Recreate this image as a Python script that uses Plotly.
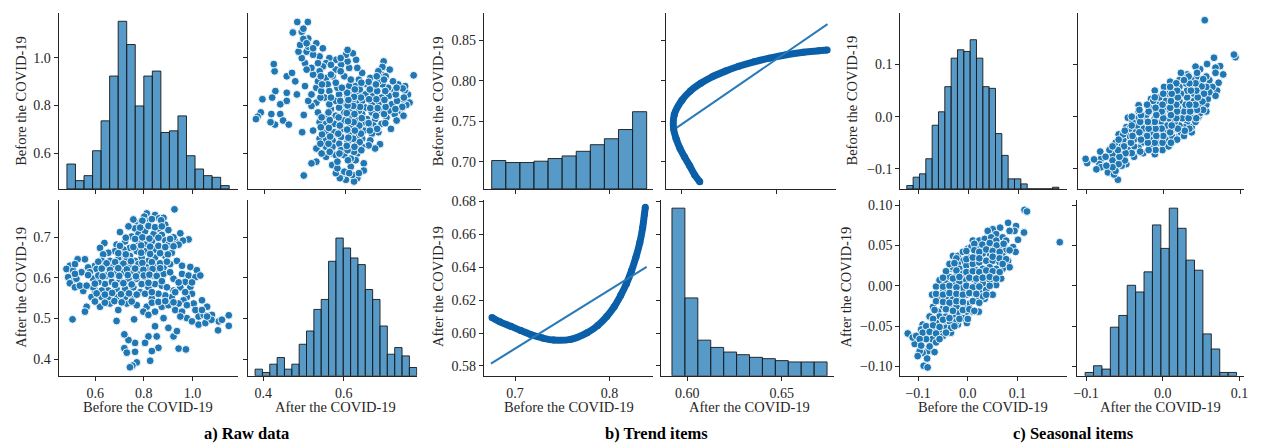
import plotly.graph_objects as go

W, H = 1264, 446
FONT = "Liberation Serif"
INK = "#262626"
BLUE = "#1f77b4"
BAR_FILL = "rgba(31,119,180,0.75)"
BAR_EDGE = "rgba(25,25,25,0.9)"
CURVE = "#0a5fa8"
REGLINE = "#2a7ab8"

# ---------------- a) Raw data ----------------
RAW_BEFORE = [
    0.926, 0.812, 0.802, 0.846, 0.863, 0.881, 0.826, 0.778, 0.764, 0.791,
    0.888, 0.901, 0.860, 0.702, 0.950, 0.984, 0.961, 0.929, 0.922, 0.638,
    0.620, 0.688, 0.723, 0.750, 0.778, 0.805, 0.840, 0.874, 0.888, 0.833,
    0.805, 0.778, 0.743, 0.716, 0.682, 0.654, 0.633, 0.709, 0.743, 0.771,
    0.805, 0.846, 0.874, 0.901, 0.943, 0.915, 0.888, 0.846, 0.819, 0.791,
    0.764, 0.730, 0.695, 0.661, 0.627, 0.599, 0.571, 0.558, 0.528, 0.496,
    0.482, 0.510, 0.544, 0.489, 0.503, 0.523, 0.496, 0.517, 0.551, 0.578,
    0.606, 0.640, 0.675, 0.709, 0.743, 0.778, 0.812, 0.846, 0.881, 0.908,
    0.936, 0.922, 0.957, 0.991, 1.018, 0.957, 0.984, 1.012, 1.032, 0.970,
    0.950, 0.922, 0.991, 0.998, 0.977, 0.963, 0.943, 0.915, 0.888, 0.860,
    0.833, 0.812, 0.798, 0.819, 0.846, 0.874, 0.901, 0.929, 0.957, 0.977,
    0.998, 1.025, 1.046, 1.060, 1.039, 1.005, 1.025, 1.053, 1.080, 1.108,
    1.121, 1.149, 1.149, 1.105, 1.078, 0.846, 0.901, 0.881, 0.922, 0.936,
    0.943, 0.973, 0.860, 0.833, 0.853, 0.819, 0.805, 0.826, 0.764, 0.737,
    0.720, 0.720, 0.764, 0.730, 0.771, 0.753, 0.743, 0.688, 0.760, 0.565,
    0.558, 0.507, 0.771, 0.730, 0.695, 0.661, 0.620, 0.585, 0.599, 0.627,
    0.654, 0.688, 0.723, 0.757, 0.785, 0.819, 0.846, 0.874, 0.895, 0.867,
    0.840, 0.805, 0.771, 0.737, 0.702, 0.668, 0.640, 0.613, 0.592, 0.613,
    0.647, 0.682, 0.716, 0.750, 0.785, 0.819, 0.853, 0.881, 0.908, 0.791,
    0.757, 0.723, 0.688, 0.654, 0.627, 0.592,
    0.757, 0.794, 0.833, 0.871,
    0.737, 0.785, 0.819, 0.846, 0.874,
    0.726, 0.764, 0.794, 0.823, 0.860, 0.908,
    0.702, 0.757, 0.789, 0.826, 0.860, 0.888, 0.922,
    0.695, 0.726, 0.789, 0.826, 0.867, 0.899,
    0.613, 0.647, 0.682, 0.716, 0.747, 0.794, 0.833, 0.867, 0.895,
    0.627, 0.661, 0.695, 0.730, 0.764, 0.798, 0.836, 0.867,
    0.571, 0.631, 0.665, 0.699, 0.734, 0.768, 0.800, 0.823, 0.853,
    0.599, 0.682, 0.716, 0.750, 0.819, 0.874,
    0.606, 0.640, 0.670, 0.706, 0.739, 0.771, 0.805, 0.833,
    0.599, 0.640, 0.679, 0.709, 0.750, 0.833, 0.860, 0.888, 0.922,
    0.943, 0.998, 0.970, 0.929, 0.977, 1.012, 1.039, 0.950, 1.060,
    0.517, 0.517, 0.537, 0.565,
]
RAW_AFTER = [
    0.769, 0.759, 0.751, 0.755, 0.747, 0.748, 0.743, 0.735, 0.722, 0.739,
    0.731, 0.718, 0.722, 0.713, 0.710, 0.695, 0.692, 0.690, 0.700, 0.686,
    0.674, 0.682, 0.690, 0.702, 0.708, 0.715, 0.708, 0.706, 0.692, 0.690,
    0.682, 0.690, 0.674, 0.670, 0.666, 0.662, 0.658, 0.658, 0.654, 0.666,
    0.666, 0.670, 0.674, 0.682, 0.682, 0.662, 0.654, 0.650, 0.642, 0.650,
    0.642, 0.646, 0.646, 0.642, 0.642, 0.630, 0.626, 0.646, 0.646, 0.630,
    0.622, 0.618, 0.614, 0.602, 0.590, 0.598, 0.587, 0.577, 0.568, 0.614,
    0.622, 0.630, 0.630, 0.634, 0.630, 0.634, 0.626, 0.630, 0.626, 0.634,
    0.642, 0.598, 0.630, 0.627, 0.619, 0.610, 0.606, 0.602, 0.606, 0.590,
    0.577, 0.569, 0.577, 0.561, 0.553, 0.545, 0.537, 0.553, 0.557, 0.561,
    0.549, 0.529, 0.517, 0.509, 0.517, 0.529, 0.533, 0.521, 0.517, 0.501,
    0.493, 0.505, 0.509, 0.529, 0.545, 0.537, 0.485, 0.489, 0.509, 0.493,
    0.497, 0.508, 0.482, 0.471, 0.497, 0.481, 0.477, 0.501, 0.456, 0.469,
    0.426, 0.424, 0.428, 0.420, 0.456, 0.456, 0.440, 0.396, 0.440, 0.447,
    0.461, 0.427, 0.418, 0.416, 0.392, 0.384, 0.380, 0.494, 0.498, 0.529,
    0.517, 0.498, 0.533, 0.537, 0.521, 0.537, 0.529, 0.553, 0.569, 0.553,
    0.553, 0.553, 0.553, 0.557, 0.565, 0.577, 0.585, 0.581, 0.577, 0.602,
    0.606, 0.602, 0.598, 0.598, 0.594, 0.590, 0.585, 0.590, 0.598, 0.606,
    0.606, 0.610, 0.614, 0.614, 0.614, 0.618, 0.614, 0.610, 0.614, 0.585,
    0.577, 0.573, 0.573, 0.569, 0.569, 0.577,
    0.744, 0.741, 0.745, 0.742,
    0.727, 0.724, 0.728, 0.725, 0.727,
    0.699, 0.696, 0.700, 0.697, 0.699, 0.696,
    0.679, 0.676, 0.680, 0.677, 0.679, 0.676, 0.678,
    0.661, 0.658, 0.662, 0.659, 0.661, 0.658,
    0.640, 0.636, 0.639, 0.635, 0.641, 0.637, 0.639, 0.636, 0.640,
    0.623, 0.620, 0.624, 0.621, 0.623, 0.620, 0.622, 0.624,
    0.607, 0.604, 0.608, 0.605, 0.607, 0.604, 0.606, 0.608, 0.605,
    0.586, 0.583, 0.587, 0.584, 0.588, 0.592,
    0.562, 0.559, 0.563, 0.560, 0.562, 0.559, 0.561, 0.565,
    0.542, 0.539, 0.543, 0.540, 0.542, 0.539, 0.541, 0.543, 0.540,
    0.589, 0.589, 0.565, 0.565, 0.533, 0.521, 0.521, 0.505, 0.505,
    0.610, 0.634, 0.581, 0.581,
]
RAW_BEFORE_BIN_START = 0.484
RAW_BEFORE_BIN_WIDTH = 0.0351
RAW_BEFORE_COUNTS = [15, 5, 8, 23, 41, 68, 101, 87, 50, 68, 71, 34, 35, 44, 20, 12, 8, 7, 2]
RAW_AFTER_BIN_START = 0.3795
RAW_AFTER_BIN_WIDTH = 0.01827
RAW_AFTER_COUNTS = [4, 2, 7, 11, 4, 7, 19, 27, 40, 46, 69, 83, 77, 71, 67, 52, 46, 30, 13, 17, 12, 5]

# ---------------- b) Trend items ----------------
TREND_BEFORE = [0.6755, 0.684, 0.6955, 0.706, 0.7165, 0.729, 0.741, 0.7586, 0.7762, 0.7875,
                0.7970, 0.8050, 0.8120, 0.8180, 0.8235, 0.8280, 0.8322, 0.8352, 0.8370, 0.8380]
TREND_AFTER = [0.6095, 0.6068, 0.6041, 0.6015, 0.5991, 0.5970, 0.5957, 0.5961, 0.6001, 0.6045,
               0.6100, 0.6160, 0.6230, 0.6300, 0.6380, 0.6460, 0.6550, 0.6640, 0.6720, 0.6765]
# fitted regression lines (end points)
FIT_AFTER_ON_BEFORE_X = [0.6744, 0.8394]
FIT_AFTER_ON_BEFORE_Y = [0.5814, 0.6402]
FIT_BEFORE_ON_AFTER_X = [0.5974, 0.6767]
FIT_BEFORE_ON_AFTER_Y = [0.7423, 0.8700]
TREND_BEFORE_BIN_START = 0.6752
TREND_BEFORE_BIN_WIDTH = 0.01493
TREND_BEFORE_COUNTS = [43, 40, 40, 42, 46, 50, 57, 67, 76, 90, 117]
TREND_AFTER_BIN_START = 0.5919
TREND_AFTER_BIN_WIDTH = 0.00684
TREND_AFTER_COUNTS = [254, 118, 54, 43, 36, 32, 28, 26, 23, 21, 21, 21]

# ---------------- c) Seasonal items ----------------
SEAS_BEFORE = [
    0.114, 0.119, 0.185, 0.081, 0.097, 0.113, 0.101, 0.094, 0.065, 0.050,
    0.040, 0.057, 0.070, 0.077, 0.084, 0.091, 0.096, 0.081, 0.084, 0.067,
    0.057, 0.050, 0.034, 0.022, 0.010, -0.002, -0.020, -0.034, -0.050, -0.064,
    -0.077, -0.081, -0.067, -0.091, -0.097, -0.101, -0.107, -0.121, -0.111, -0.099,
    -0.089, -0.081, -0.082, -0.072, -0.091, -0.077, -0.070, -0.072, -0.064, -0.057,
    -0.047, -0.037, -0.030, -0.020, -0.010, 0.000, 0.010, 0.023, 0.034, 0.047,
    0.057, 0.007, 0.020, 0.037, 0.050, 0.064, 0.077, 0.070, 0.057, 0.044,
    0.030, 0.017, 0.003, -0.010, -0.020, -0.030, -0.017, -0.003, 0.010, 0.023,
    0.037, 0.050, 0.064, 0.070, 0.057, 0.044, 0.030, 0.017, 0.003, -0.010,
    -0.023, -0.037, -0.044, -0.030, -0.017, -0.003, 0.010, 0.023, 0.037, 0.050,
    0.044, 0.030, 0.017, 0.003, -0.010, -0.023, -0.037, -0.050, -0.057, -0.044,
    -0.030, -0.017, -0.003, 0.010, 0.023, 0.037, 0.030, 0.017, 0.003, -0.010,
    -0.023, -0.037, -0.050, -0.060, -0.057, -0.044, -0.030, -0.017, -0.003, -0.010,
    -0.023, -0.037, -0.050, -0.064, -0.070, -0.057, -0.044, -0.034, -0.077, -0.084,
    -0.094, -0.104, -0.064,
    0.013, 0.029, 0.044, 0.058, 0.072,
    -0.003, 0.013, 0.023, 0.037, 0.050, 0.064, 0.084,
    -0.023, -0.003, 0.010, 0.023, 0.050, 0.064, 0.077,
    -0.037, -0.027, 0.070,
    -0.044, -0.023, -0.003, 0.010, 0.023, 0.037, 0.050, 0.064,
    -0.050, -0.030, -0.017, 0.003, 0.017, 0.030, 0.044, 0.057,
    -0.050, -0.037, -0.023, -0.003, 0.010, 0.023, 0.044,
    -0.064, -0.050, -0.037, -0.023, -0.010, 0.003, 0.017, 0.037,
    -0.064, -0.050, -0.037, -0.023, -0.010, 0.010, 0.023,
    -0.067, -0.044, -0.030, -0.010, 0.003, 0.013,
    -0.070, -0.050, -0.037, -0.017, 0.000,
    -0.084, -0.070, -0.057, -0.027,
    -0.091, -0.077, -0.064, -0.044,
    -0.097, -0.057,
    -0.094, -0.077,
]
SEAS_AFTER = [
    0.094, 0.092, 0.054, 0.078, 0.074, 0.066, 0.057, 0.068, 0.072, 0.070,
    0.068, 0.064, 0.060, 0.056, 0.068, 0.048, 0.042, 0.031, 0.023, 0.009,
    0.001, -0.011, -0.016, -0.032, -0.032, -0.046, -0.048, -0.058, -0.062, -0.064,
    -0.062, -0.081, -0.082, -0.083, -0.081, -0.087, -0.072, -0.059, -0.064, -0.064,
    -0.099, -0.101, -0.090, -0.066, -0.048, -0.038, -0.026, -0.011, -0.001, 0.007,
    0.011, 0.021, 0.037, 0.037, 0.042, 0.046, 0.056, 0.056, 0.058, 0.060,
    0.056, 0.048, 0.048, 0.050, 0.048, 0.048, 0.044, 0.037, 0.040, 0.040,
    0.040, 0.037, 0.035, 0.031, 0.027, 0.023, 0.021, 0.025, 0.027, 0.029,
    0.031, 0.031, 0.029, 0.021, 0.021, 0.023, 0.021, 0.019, 0.017, 0.015,
    0.013, 0.011, 0.003, 0.003, 0.005, 0.007, 0.009, 0.011, 0.013, 0.015,
    0.007, 0.003, 0.001, -0.001, -0.003, -0.005, -0.007, -0.007, -0.013, -0.016,
    -0.016, -0.013, -0.011, -0.009, -0.007, -0.005, -0.013, -0.018, -0.022, -0.024,
    -0.026, -0.028, -0.028, -0.032, -0.038, -0.038, -0.036, -0.034, -0.032, -0.040,
    -0.044, -0.046, -0.048, -0.046, -0.054, -0.054, -0.052, -0.052, -0.052, -0.066,
    -0.054, -0.062, -0.070,
    0.052, 0.051, 0.053, 0.050, 0.052,
    0.043, 0.044, 0.042, 0.045, 0.043, 0.042, 0.044,
    0.034, 0.033, 0.035, 0.034, 0.036, 0.034, 0.033,
    0.027, 0.028, 0.027,
    0.018, 0.019, 0.017, 0.018, 0.017, 0.019, 0.018, 0.017,
    0.010, 0.009, 0.011, 0.010, 0.009, 0.010, 0.011, 0.009,
    -0.001, 0.000, -0.002, 0.000, -0.002, -0.001, 0.000,
    -0.010, -0.011, -0.009, -0.010, -0.011, -0.009, -0.010, -0.011,
    -0.019, -0.020, -0.021, -0.019, -0.020, -0.019, -0.021,
    -0.030, -0.029, -0.031, -0.030, -0.029, -0.031,
    -0.041, -0.042, -0.040, -0.041, -0.041,
    -0.050, -0.049, -0.051, -0.050,
    -0.058, -0.057, -0.059, -0.058,
    -0.066, -0.066,
    -0.074, -0.075,
]
SEAS_BEFORE_BIN_START = -0.1228
SEAS_BEFORE_BIN_WIDTH = 0.01267
SEAS_BEFORE_COUNTS = [2, 7, 9, 18, 38, 46, 61, 78, 83, 82, 89, 78, 61, 60, 33, 20, 6, 6, 3, 0, 0, 0, 0, 1]
SEAS_AFTER_BIN_START = -0.1013
SEAS_AFTER_BIN_WIDTH = 0.01097
SEAS_AFTER_COUNTS = [2, 6, 4, 29, 36, 54, 50, 62, 90, 76, 100, 88, 69, 63, 25, 16, 2, 2]

XLAB_BEFORE = "Before the COVID-19"
XLAB_AFTER = "After the COVID-19"
CAPTIONS = ["a) Raw data", "b) Trend items", "c) Seasonal items"]

assert len(RAW_BEFORE) == len(RAW_AFTER)
assert len(SEAS_BEFORE) == len(SEAS_AFTER)
assert len(TREND_BEFORE) == len(TREND_AFTER)

# ---------------- figure construction ----------------
fig = go.Figure()
layout = dict(width=W, height=H, margin=dict(l=0, r=0, t=0, b=0),
              paper_bgcolor="white", plot_bgcolor="rgba(0,0,0,0)",
              showlegend=False, annotations=[])

AX = dict(showline=True, linecolor=INK, linewidth=1.1, ticks="outside", ticklen=4,
          tickwidth=1, tickcolor=INK, showgrid=False, zeroline=False, mirror=False,
          tickfont=dict(family=FONT, size=14, color=INK), fixedrange=True)

counter = [0]


def sfx(i):
    return "" if i == 1 else str(i)


def fmt(v, nd):
    return f"{v:.{nd}f}".replace("-", "\u2212")


def ticks(vals, nd):
    return dict(tickvals=vals, ticktext=[fmt(v, nd) for v in vals])


def panel(xpx, ypx, xr, yr, xt, yt, show_xl, show_yl):
    counter[0] += 1
    s = sfx(counter[0])
    layout["xaxis" + s] = dict(AX, domain=[xpx[0] / W, xpx[1] / W], range=xr,
                               anchor="y" + s, showticklabels=show_xl, **xt)
    layout["yaxis" + s] = dict(AX, domain=[1 - ypx[1] / H, 1 - ypx[0] / H], range=yr,
                               anchor="x" + s, showticklabels=show_yl, **yt)
    fig.add_trace(go.Scatter(x=[None], y=[None], xaxis="x" + s, yaxis="y" + s,
                             mode="markers", hoverinfo="skip"))
    return "x" + s, "y" + s


def count_axis(xa, ya, top):
    counter[0] += 1
    s = sfx(counter[0])
    layout["yaxis" + s] = dict(overlaying=ya, anchor=xa, range=[0, top],
                               visible=False, fixedrange=True)
    return "y" + s


def hist(xa, ya, start, width, counts):
    centers = [start + (i + 0.5) * width for i in range(len(counts))]
    fig.add_trace(go.Bar(x=centers, y=counts, width=width, xaxis=xa, yaxis=ya,
                         marker=dict(color=BAR_FILL, line=dict(color=BAR_EDGE, width=1)),
                         hoverinfo="skip"))


def scatter(xa, ya, xs, ys):
    fig.add_trace(go.Scatter(x=xs, y=ys, mode="markers", xaxis=xa, yaxis=ya,
                             marker=dict(size=7.8, color=BLUE,
                                         line=dict(color="white", width=0.9)),
                             hoverinfo="skip"))


def text(xp, yp, s, size, bold=False, angle=0):
    layout["annotations"].append(dict(
        x=xp / W, y=1 - yp / H, xref="paper", yref="paper", showarrow=False,
        text=f"<b>{s}</b>" if bold else s, textangle=angle,
        xanchor="center", yanchor="middle",
        font=dict(family=FONT, size=size, color="black" if bold else INK)))


ROW1 = (8, 186)
ROW2 = (197, 375)

# ---- group a ----
t_bx = ticks([0.6, 0.8, 1.0], 1)
t_ax = ticks([0.4, 0.6], 1)
t_by = ticks([0.6, 0.8, 1.0], 1)
t_ay = ticks([0.4, 0.5, 0.6, 0.7], 1)
a_top = max(RAW_BEFORE_COUNTS + RAW_AFTER_COUNTS) * 1.05

xa, ya = panel((55, 235), ROW1, [0.450, 1.185], [0.451, 1.187], t_bx, t_by, False, True)
hist(xa, count_axis(xa, ya, a_top), RAW_BEFORE_BIN_START, RAW_BEFORE_BIN_WIDTH, RAW_BEFORE_COUNTS)
xa, ya = panel((246, 420), ROW1, [0.3615, 0.788], [0.451, 1.187], t_ax, t_by, False, False)
scatter(xa, ya, RAW_AFTER, RAW_BEFORE)
xa, ya = panel((55, 235), ROW2, [0.450, 1.185], [0.359, 0.7925], t_bx, t_ay, True, True)
scatter(xa, ya, RAW_BEFORE, RAW_AFTER)
xa, ya = panel((246, 416), ROW2, [0.363, 0.783], [0.359, 0.7925], t_ax, t_ay, True, False)
hist(xa, count_axis(xa, ya, a_top), RAW_AFTER_BIN_START, RAW_AFTER_BIN_WIDTH, RAW_AFTER_COUNTS)

# ---- group b ----
t_bx = ticks([0.7, 0.8], 1)
t_ax = ticks([0.60, 0.65], 2)
t_by = ticks([0.70, 0.75, 0.80, 0.85], 2)
t_ay = ticks([0.58, 0.60, 0.62, 0.64, 0.66, 0.68], 2)
b_top = max(TREND_BEFORE_COUNTS + TREND_AFTER_COUNTS) * 1.05


def trend(xa, ya, xs, ys, fx, fy):
    fig.add_trace(go.Scatter(x=xs, y=ys, mode="lines+markers", xaxis=xa, yaxis=ya,
                             line=dict(color=CURVE, width=7, shape="spline", smoothing=1.0),
                             marker=dict(size=7, color=CURVE), hoverinfo="skip"))
    fig.add_trace(go.Scatter(x=fx, y=fy, mode="lines", xaxis=xa, yaxis=ya,
                             line=dict(color=REGLINE, width=2), hoverinfo="skip"))


xa, ya = panel((483, 653), ROW1, [0.667, 0.846], [0.6667, 0.8838], t_bx, t_by, False, True)
hist(xa, count_axis(xa, ya, b_top), TREND_BEFORE_BIN_START, TREND_BEFORE_BIN_WIDTH, TREND_BEFORE_COUNTS)
xa, ya = panel((666, 837), ROW1, [0.5916, 0.681], [0.6667, 0.8838], t_ax, t_by, False, False)
trend(xa, ya, TREND_AFTER, TREND_BEFORE, FIT_BEFORE_ON_AFTER_X, FIT_BEFORE_ON_AFTER_Y)
xa, ya = panel((483, 653), ROW2, [0.667, 0.846], [0.574, 0.681], t_bx, t_ay, True, True)
trend(xa, ya, TREND_BEFORE, TREND_AFTER, FIT_AFTER_ON_BEFORE_X, FIT_AFTER_ON_BEFORE_Y)
xa, ya = panel((661, 835), ROW2, [0.586, 0.6775], [0.574, 0.681], t_ax, t_ay, True, False)
hist(xa, count_axis(xa, ya, b_top), TREND_AFTER_BIN_START, TREND_AFTER_BIN_WIDTH, TREND_AFTER_COUNTS)

# ---- group c ----
t_bx = ticks([-0.1, 0.0, 0.1], 1)
t_ax = ticks([-0.1, 0.0, 0.1], 1)
t_by = ticks([-0.1, 0.0, 0.1], 1)
t_ay = ticks([-0.10, -0.05, 0.00, 0.05, 0.10], 2)
c_top = max(SEAS_BEFORE_COUNTS + SEAS_AFTER_COUNTS) * 1.05

xa, ya = panel((902, 1070), ROW1, [-0.1358, 0.198], [-0.1386, 0.199], t_bx, t_by, False, True)
hist(xa, count_axis(xa, ya, c_top), SEAS_BEFORE_BIN_START, SEAS_BEFORE_BIN_WIDTH, SEAS_BEFORE_COUNTS)
xa, ya = panel((1081, 1248), ROW1, [-0.1107, 0.1052], [-0.1386, 0.199], t_ax, t_by, False, False)
scatter(xa, ya, SEAS_AFTER, SEAS_BEFORE)
xa, ya = panel((902, 1070), ROW2, [-0.136, 0.200], [-0.1114, 0.1065], t_bx, t_ay, True, True)
scatter(xa, ya, SEAS_BEFORE, SEAS_AFTER)
xa, ya = panel((1080, 1248), ROW2, [-0.1117, 0.106], [-0.1114, 0.1065], t_ax, t_ay, True, False)
hist(xa, count_axis(xa, ya, c_top), SEAS_AFTER_BIN_START, SEAS_AFTER_BIN_WIDTH, SEAS_AFTER_COUNTS)

# ---- axis titles and captions ----
XT_Y = 407
for cx_before, cx_after in [(145, 334), (569, 750), (985, 1164)]:
    text(cx_before, XT_Y, XLAB_BEFORE, 14.5)
    text(cx_after, XT_Y, XLAB_AFTER, 14.5)
for xb, xa_ in [(17, 17), (437, 437), (853, 847)]:
    text(xb, 97, XLAB_BEFORE, 14.5, angle=-90)
    text(xa_, 285, XLAB_AFTER, 14.5, angle=-90)
for cx, cap in zip([244, 657, 1076], CAPTIONS):
    text(cx, 433, cap, 16.5, bold=True)

fig.update_layout(**layout)
fig.write_html("out.html", config={"displayModeBar": False},
               post_script="document.body.style.margin='0';document.body.style.overflow='hidden';")
